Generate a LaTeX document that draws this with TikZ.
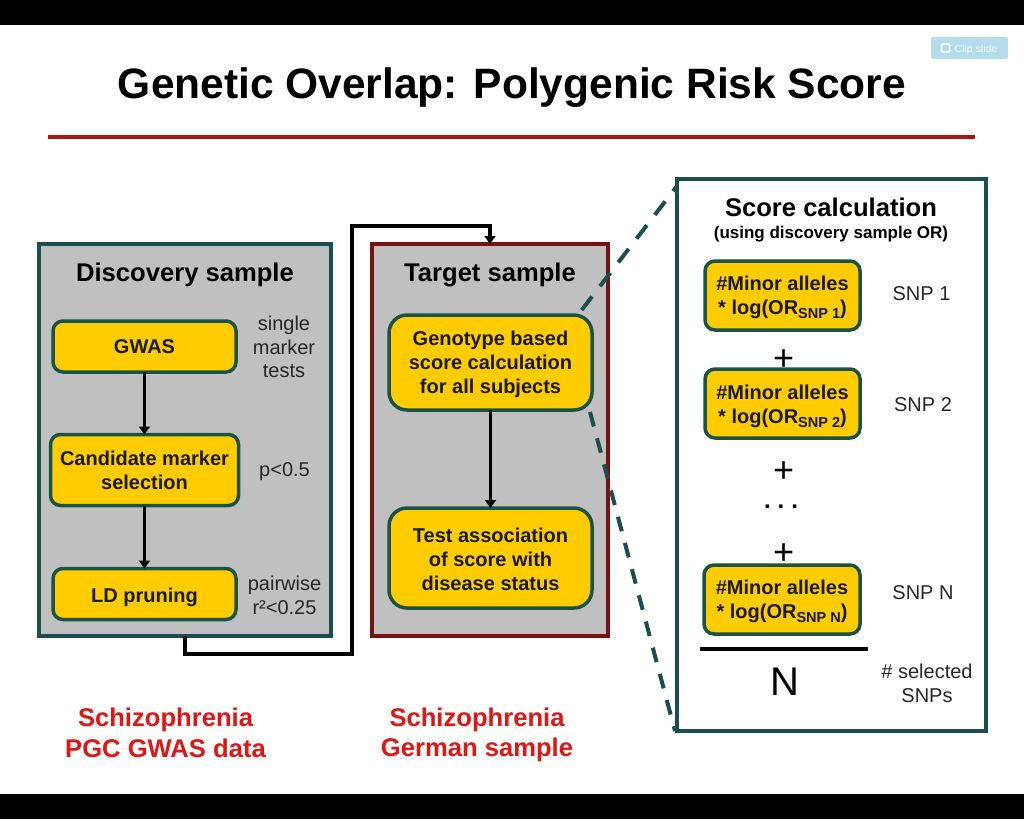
\documentclass[tikz,border=0pt]{standalone}
\usepackage{fontspec}
\setmainfont{Liberation Sans}
\usetikzlibrary{arrows.meta}
\definecolor{tealdk}{HTML}{1B4F4F}
\definecolor{boxedge}{HTML}{1A5245}
\definecolor{redbrd}{HTML}{7A1212}
\definecolor{ruler}{HTML}{B01515}
\definecolor{fillgray}{HTML}{C0C0C0}
\definecolor{yel}{HTML}{FFCC00}
\definecolor{redtxt}{HTML}{E01515}
\definecolor{clipbg}{HTML}{B5DCEC}
\newcommand{\fs}[2]{\fontsize{#1}{#2}\selectfont}
\newcommand{\snpsub}[1]{\raisebox{-3.5pt}{\fs{14.5}{15}#1}}
\tikzset{
  panel/.style={draw=tealdk,line width=3.5pt,fill=fillgray,minimum width=#1,inner sep=0pt,outer sep=0pt},
  yelbox/.style={draw=boxedge,line width=3.5pt,fill=yel,rounded corners=10pt,inner sep=0pt,outer sep=0pt},
  boxtxt/.style={align=center,inner sep=0pt,font=\bfseries\fs{20}{24},text=black!90},
  lab/.style={align=center,inner sep=0pt,font=\fs{20}{23.7},text=black!85},
  head/.style={align=center,inner sep=0pt,font=\bfseries\fs{25.6}{30},text=black},
  redlab/.style={align=center,inner sep=0pt,font=\bfseries\fs{25.6}{30.5},text=redtxt},
  flow/.style={draw=black,line width=3.5pt,-{Triangle[length=8pt,width=11pt]}},
  upper/.style={draw=tealdk,line width=4pt,dash pattern=on 17pt off 13pt},
  lower/.style={draw=tealdk,line width=4pt,dash pattern=on 15pt off 12.1pt},
  plus/.style={inner sep=0pt,font=\fs{36}{40}},
}
\begin{document}
\begin{tikzpicture}[x=1pt,y=-1pt]
\useasboundingbox (0,0) rectangle (1024,819);
\fill[white] (0,0) rectangle (1024,819);
\fill[black] (0,0) rectangle (1024,25);
\fill[black] (0,794) rectangle (1024,819);
% clip button
\node[fill=clipbg,rounded corners=1.5pt,minimum width=77pt,minimum height=22pt,inner sep=0pt] (clip) at (969.5,48) {};
\node[inner sep=0pt,text=white,opacity=.8,font=\fs{10.5}{12}] (cliptxt) at (976,49.5) {Clip slide};
\draw[white,opacity=.85,line width=1.6pt,rounded corners=1pt] (941.5,44) rectangle (949.5,52);
% title
\node[inner sep=0pt,font=\bfseries\fs{42.5}{50},text=black] (title) at (512,88) {Genetic Overlap: Polygenic Risk Score};
\draw[ruler,line width=3.5pt] (48,137) -- (975,137);
% panels
\node[panel=292pt,minimum height=392pt] (disc) at (185,440) {};
\node[panel=236pt,minimum height=392pt,draw=redbrd] (targ) at (490,440) {};
\node[panel=309pt,minimum height=552pt,fill=white] (score) at (831.5,455) {};
% boxes
\node[yelbox,minimum width=183pt,minimum height=51pt,label={[boxtxt]center:GWAS}] (gwas) at (144.5,346.5) {};
\node[yelbox,minimum width=188pt,minimum height=71pt,label={[boxtxt]center:Candidate marker\\selection}] (cand) at (144.5,470) {};
\node[yelbox,minimum width=183pt,minimum height=51pt,label={[boxtxt,yshift=-3pt]center:LD pruning}] (ld) at (144.5,594) {};
% zoom lines (behind the genotype box)
\coordinate (za) at (581.7,310);
\coordinate (zb) at (677,186);
\coordinate (zc) at (590,412);
\coordinate (zd) at (675,731);
\draw[upper] (za) -- (zb);
\draw[lower] (zc) -- (zd);
\node[yelbox,minimum width=203pt,minimum height=95pt,rounded corners=18pt,label={[boxtxt,yshift=-2pt]center:Genotype based\\score calculation\\for all subjects}] (geno) at (490.5,362.5) {};
\node[yelbox,minimum width=203pt,minimum height=100pt,rounded corners=18pt,label={[boxtxt,yshift=-1pt]center:Test association\\of score with\\disease status}] (test) at (490.5,558) {};
% headings
\node[head] (hd) at (185,275) {Discovery sample};
\node[head] (ht) at (490,275) {Target sample};
\node[head] (hs) at (831,207) {Score calculation};
\node[inner sep=0pt,font=\bfseries\fs{17}{20},text=black] (hs2) at (831,234) {(using discovery sample OR)};
% side labels
\node[lab] (l1) at (284,347) {single\\marker\\tests};
\node[lab] (l2) at (284.5,472) {p<0.5};
\node[lab] (l3) at (284.5,595) {pairwise\\r²<0.25};
% arrows
\draw[flow] (gwas) -- (cand);
\draw[flow] (cand) -- (ld);
\draw[flow] (geno) -- (test);
\coordinate (r1) at (185,654);
\coordinate (r2) at (352,654);
\coordinate (r3) at (352,226);
\coordinate (r4) at (490,226);
\draw[flow] (disc.south) -- (r1) -- (r2) -- (r3) -- (r4) -- (targ.north);
% score boxes
\node[yelbox,minimum width=155pt,minimum height=69pt,label={[boxtxt,yshift=-2pt]center:\#Minor alleles\\* log(OR\snpsub{SNP 1})}] (s1) at (782.5,295.5) {};
\node[yelbox,minimum width=155pt,minimum height=69pt,label={[boxtxt,yshift=-3pt]center:\#Minor alleles\\* log(OR\snpsub{SNP 2})}] (s2) at (782.5,403.5) {};
\node[yelbox,minimum width=156pt,minimum height=69pt,label={[boxtxt,yshift=-2pt]center:\#Minor alleles\\* log(OR\snpsub{SNP N})}] (sn) at (782,599.5) {};
\node[lab] (t1) at (921.5,294) {SNP 1};
\node[lab] (t2) at (923,405) {SNP 2};
\node[lab] (t3) at (923,593) {SNP N};
\node[plus] (p1) at (783.5,360) {+};
\node[plus] (p2) at (783.5,472) {+};
\node[inner sep=0pt,font=\bfseries\fs{24}{28}] (dots) at (781,507) {.\hspace{7pt}.\hspace{7pt}.};
\node[plus] (p3) at (783.5,554) {+};
\coordinate (f1) at (700,649);
\coordinate (f2) at (868,649);
\draw[black,line width=3.5pt] (f1) -- (f2);
\node[inner sep=0pt,font=\fs{40}{44}] (nn) at (785,682) {N};
\node[lab] (t4) at (927,683) {\# selected\\SNPs};
% red captions
\node[redlab] (c1) at (165.5,733) {Schizophrenia\\PGC GWAS data};
\node[redlab] (c2) at (477,735) {Schizophrenia\\German sample};
\end{tikzpicture}
\end{document}
